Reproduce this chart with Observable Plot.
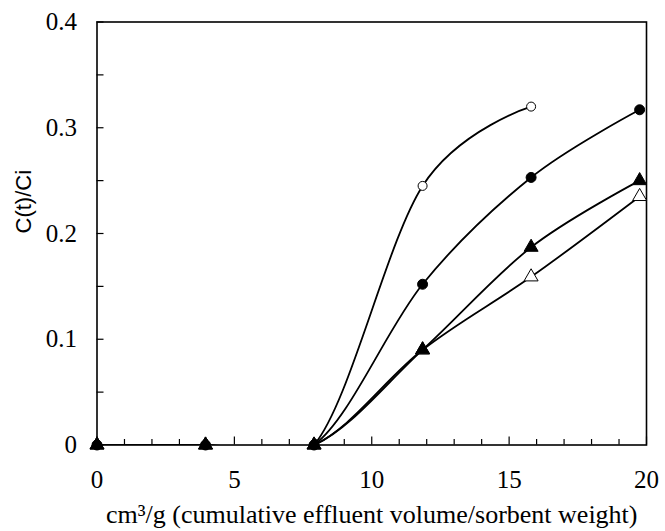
<!DOCTYPE html>
<html>
<head>
<meta charset="utf-8">
<script src="https://cdn.jsdelivr.net/npm/d3@7"></script>
<script src="https://cdn.jsdelivr.net/npm/@observablehq/plot@0.6"></script>
<style>
  html, body { margin: 0; padding: 0; background: #fff; }
</style>
</head>
<body>
<div id="chart"></div>
<script>
// x positions (cm3/g) of the measurements
const xValues = [0, 3.95, 7.9, 11.85, 15.8, 19.75];
// C(t)/Ci for each series
const openCircleY = [0, 0, 0, 0.245, 0.320];
const filledCircleY = [0, 0, 0, 0.152, 0.253, 0.317];
const filledTriangleY = [0, 0, 0, 0.090, 0.187, 0.250];
const openTriangleY = [0, 0, 0, 0.090, 0.159, 0.235];
// tick labels
const xTicks = [0, 5, 10, 15, 20];
const xMinorTicks = [1, 2, 3, 4, 6, 7, 8, 9, 11, 12, 13, 14, 16, 17, 18, 19];
const yTicks = [0, 0.1, 0.2, 0.3, 0.4];
const yMinorTicks = [0.05, 0.15, 0.25, 0.35];
const xLabel = "cm³/g (cumulative effluent volume/sorbent weight)";
const yLabel = "C(t)/Ci";

const seriesDefs = [
  {name: "openCircle", values: openCircleY},
  {name: "filledCircle", values: filledCircleY},
  {name: "filledTriangle", values: filledTriangleY},
  {name: "openTriangle", values: openTriangleY}
];
const rows = seriesDefs.flatMap(s => s.values.map((v, i) => ({series: s.name, x: xValues[i], y: v})));
const of = name => rows.filter(d => d.series === name);

const W = 665, H = 531;
const mL = 96.5, mR = 19, mT = 21.5, mB = 86.5;
const plotW = W - mL - mR, plotH = H - mT - mB;

const chart = Plot.plot({
  width: W,
  height: H,
  marginLeft: mL,
  marginRight: mR,
  marginTop: mT,
  marginBottom: mB,
  style: {fontFamily: "'Liberation Serif', 'Times New Roman', serif", fontSize: "25px", color: "black", background: "white"},
  x: {domain: [0, 20]},
  y: {domain: [0, 0.4]},
  marks: [
    Plot.ruleX(xMinorTicks, {x: d => d, insetTop: plotH - 5.5, stroke: "black", strokeWidth: 1.2}),
    Plot.ruleX(xTicks, {x: d => d, insetTop: plotH - 8, stroke: "black", strokeWidth: 1.2}),
    Plot.ruleY(yMinorTicks.concat(yTicks), {y: d => d, insetRight: plotW - 7, stroke: "black", strokeWidth: 1.2}),
    Plot.axisX({ticks: xTicks, tickSize: 0, tickPadding: 25, tickFormat: d => String(d), label: null}),
    Plot.axisY({ticks: yTicks, tickSize: 0, tickPadding: 20, tickFormat: d => d === 0 ? "0" : d.toFixed(1), label: null}),
    Plot.line(rows, {x: "x", y: "y", z: "series", curve: "cardinal", stroke: "black", strokeWidth: 1.8, clip: true}),
    Plot.frame({stroke: "black", strokeWidth: 1.6}),
    Plot.dot(of("openCircle"), {x: "x", y: "y", r: 4.5, fill: "white", stroke: "black", strokeWidth: 1}),
    Plot.dot(of("openTriangle"), {x: "x", y: "y", symbol: "triangle", r: 5.2, fill: "white", stroke: "black", strokeWidth: 1}),
    Plot.dot(of("filledTriangle"), {x: "x", y: "y", symbol: "triangle", r: 5.2, fill: "black", stroke: "black", strokeWidth: 1}),
    Plot.dot(of("filledCircle"), {x: "x", y: "y", r: 5, fill: "black", stroke: "black", strokeWidth: 1}),
    Plot.text([xLabel], {frameAnchor: "bottom", dy: 70, lineAnchor: "middle", fontSize: 26, fill: "black"}),
    Plot.text([yLabel], {frameAnchor: "left", rotate: -90, dx: -73.5, dy: 0, lineAnchor: "middle", fontFamily: "'Liberation Sans', Arial, sans-serif", fontSize: 22, fill: "black"})
  ]
});
document.getElementById("chart").appendChild(chart);
</script>
</body>
</html>
